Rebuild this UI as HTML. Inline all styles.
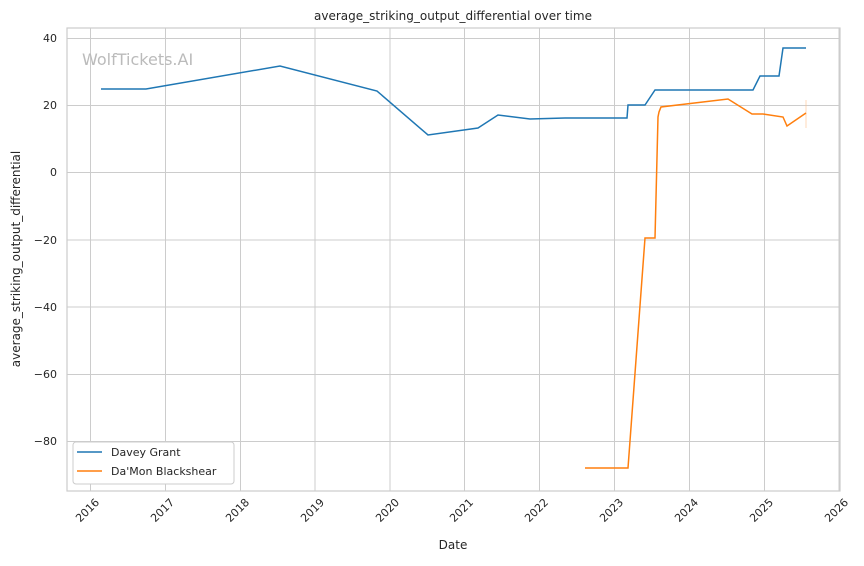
<!DOCTYPE html>
<html><head><style>
body{margin:0;background:#fff;}
svg text{font-family:"DejaVu Sans","Liberation Sans",sans-serif;fill:#262626;}
</style></head><body>
<svg width="864" height="561" viewBox="0 0 864 561" xmlns="http://www.w3.org/2000/svg">
<rect width="864" height="561" fill="#fff"/>
<g stroke="#cccccc" stroke-width="1">
<line x1="90.5" y1="28" x2="90.5" y2="491"/><line x1="165.5" y1="28" x2="165.5" y2="491"/>
<line x1="240.5" y1="28" x2="240.5" y2="491"/><line x1="315" y1="28" x2="315" y2="491"/>
<line x1="390" y1="28" x2="390" y2="491"/><line x1="464.5" y1="28" x2="464.5" y2="491"/>
<line x1="539.5" y1="28" x2="539.5" y2="491"/><line x1="614.5" y1="28" x2="614.5" y2="491"/>
<line x1="689.5" y1="28" x2="689.5" y2="491"/><line x1="764.5" y1="28" x2="764.5" y2="491"/>
<line x1="839" y1="28" x2="839" y2="491"/>
<line x1="67" y1="38.5" x2="840" y2="38.5"/><line x1="67" y1="105.5" x2="840" y2="105.5"/>
<line x1="67" y1="172.5" x2="840" y2="172.5"/><line x1="67" y1="240" x2="840" y2="240"/>
<line x1="67" y1="307" x2="840" y2="307"/><line x1="67" y1="374.5" x2="840" y2="374.5"/>
<line x1="67" y1="441.5" x2="840" y2="441.5"/>
</g>
<rect x="67" y="28" width="773" height="463" fill="none" stroke="#cccccc" stroke-width="1.2"/>
<text x="82" y="65" font-size="16" style="fill:#bbbbbb">WolfTickets.AI</text>
<polyline fill="none" stroke="#1f77b4" stroke-width="1.5" points="101,89 146,89 280,66 377,91 428,135 478,128 498,115 530,119 565,118 627,118 628,105 645,105 655,90 753,90 760,76 779,76 783,48 806,48"/>
<line x1="806" y1="100" x2="806" y2="128" stroke="#ffbf8a" stroke-width="1" opacity="0.6"/>
<polyline fill="none" stroke="#ff7f0e" stroke-width="1.5" points="585,468 628,468 645,238 655,238 658,117 659,112 661,107 728,99 752,114 763,114 783,117 787,126 806,113"/>
<g font-size="11" text-anchor="end">
<text x="57" y="42">40</text><text x="57" y="109">20</text><text x="57" y="176">0</text>
<text x="57" y="244">−20</text><text x="57" y="311">−40</text><text x="57" y="378">−60</text><text x="57" y="445">−80</text>
</g>
<g font-size="11" text-anchor="end">
<text transform="translate(100,503) rotate(-45)">2016</text><text transform="translate(175,503) rotate(-45)">2017</text>
<text transform="translate(250,503) rotate(-45)">2018</text><text transform="translate(325,503) rotate(-45)">2019</text>
<text transform="translate(400,503) rotate(-45)">2020</text><text transform="translate(474,503) rotate(-45)">2021</text>
<text transform="translate(549,503) rotate(-45)">2022</text><text transform="translate(624,503) rotate(-45)">2023</text>
<text transform="translate(699,503) rotate(-45)">2024</text><text transform="translate(774,503) rotate(-45)">2025</text>
<text transform="translate(849,503) rotate(-45)">2026</text>
</g>
<text x="453" y="549" font-size="12" text-anchor="middle">Date</text>
<text transform="translate(20,259) rotate(-90)" font-size="12" text-anchor="middle">average_striking_output_differential</text>
<text x="453" y="20" font-size="12" text-anchor="middle">average_striking_output_differential over time</text>
<rect x="73" y="442" width="161" height="42" rx="3" fill="#fff" stroke="#cccccc" stroke-width="1"/>
<line x1="77" y1="452" x2="102" y2="452" stroke="#1f77b4" stroke-width="1.5"/>
<line x1="77" y1="471" x2="102" y2="471" stroke="#ff7f0e" stroke-width="1.5"/>
<text x="111" y="456" font-size="11">Davey Grant</text>
<text x="111" y="475" font-size="11">Da'Mon Blackshear</text>
</svg>
</body></html>
